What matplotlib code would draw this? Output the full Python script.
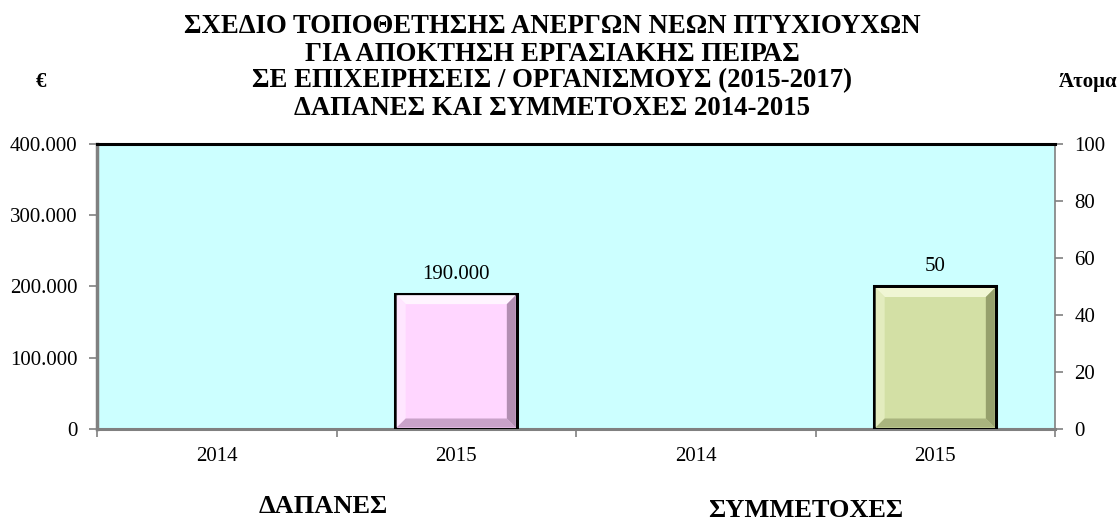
import matplotlib
matplotlib.use("Agg")
import matplotlib.pyplot as plt
from matplotlib.patches import Polygon
from matplotlib.ticker import FuncFormatter, FixedLocator

plt.rcParams['font.family'] = ['Liberation Serif', 'DejaVu Serif']

# ---- data ----
categories = ['2014', '2015', '2014', '2015']
dapanes_years = ['2014', '2015']
dapanes_values = [0, 190000]          # € (left axis)
symmetoxes_years = ['2014', '2015']
symmetoxes_values = [0, 50]           # persons (right axis)
title_lines = [
    'ΣΧΕΔΙΟ ΤΟΠΟΘΕΤΗΣΗΣ ΑΝΕΡΓΩΝ ΝΕΩΝ ΠΤΥΧΙΟΥΧΩΝ',
    'ΓΙΑ ΑΠΟΚΤΗΣΗ ΕΡΓΑΣΙΑΚΗΣ ΠΕΙΡΑΣ',
    'ΣΕ ΕΠΙΧΕΙΡΗΣΕΙΣ / ΟΡΓΑΝΙΣΜΟΥΣ (2015-2017)',
    'ΔΑΠΑΝΕΣ ΚΑΙ ΣΥΜΜΕΤΟΧΕΣ 2014-2015',
]
left_ticks = [0, 100000, 200000, 300000, 400000]
right_ticks = [0, 20, 40, 60, 80, 100]

W, H = 1118, 520
fig = plt.figure(figsize=(W / 100, H / 100), dpi=100)
ax = fig.add_axes([97 / W, (H - 429) / H, (1055 - 97) / W, (429 - 144) / H])
ax.set_facecolor('#CCFFFF')
ax2 = ax.twinx()
ax2.patch.set_visible(False)

n = len(categories)
ax.set_xlim(-0.5, n - 0.5)
ax.set_ylim(left_ticks[0], left_ticks[-1])
ax2.set_ylim(right_ticks[0], right_ticks[-1])

bar_w = 0.51
pos_d = [i for i in range(len(dapanes_values))]
pos_s = [len(dapanes_values) + i for i in range(len(symmetoxes_values))]

pink = dict(base='#FFD6FF', top='#FFF4FF', left='#FFE6FF', bottom='#C9A2C9', right='#B28EB2')
green = dict(base='#D3E0A5', top='#F0F6D4', left='#E3ECBE', bottom='#A9B47E', right='#96A06C')

bars_d = []
for p, v in zip(pos_d, dapanes_values):
    if v > 0:
        b = ax.bar(p, v, width=bar_w, color=pink['base'], edgecolor='black', linewidth=2.2, zorder=3)
        bars_d.append(b[0])
bars_s = []
for p, v in zip(pos_s, symmetoxes_values):
    if v > 0:
        b = ax2.bar(p, v, width=bar_w, color=green['base'], edgecolor='black', linewidth=2.2, zorder=3)
        bars_s.append(b[0])


def bevel(axis, rect, cols, d=9):
    # rect corners in display pixels, bevel drawn in axes fraction coords
    x0, y0 = axis.transData.transform((rect.get_x(), rect.get_y()))
    x1, y1 = axis.transData.transform((rect.get_x() + rect.get_width(), rect.get_y() + rect.get_height()))
    x0 += 1.5; y0 += 1.5; x1 -= 1.5; y1 -= 1.5
    inv = axis.transAxes.inverted()
    polys = [
        ([(x0, y1), (x1, y1), (x1 - d, y1 - d), (x0 + d, y1 - d)], cols['top']),
        ([(x0, y0), (x0, y1), (x0 + d, y1 - d), (x0 + d, y0 + d)], cols['left']),
        ([(x0, y0), (x1, y0), (x1 - d, y0 + d), (x0 + d, y0 + d)], cols['bottom']),
        ([(x1, y0), (x1, y1), (x1 - d, y1 - d), (x1 - d, y0 + d)], cols['right']),
    ]
    for pts, c in polys:
        axis.add_patch(Polygon(inv.transform(pts), closed=True, facecolor=c, edgecolor='none',
                               transform=axis.transAxes, zorder=3.5))


fig.canvas.draw()
for r in bars_d:
    bevel(ax, r, pink)
for r in bars_s:
    bevel(ax2, r, green)

# value labels
for p, v in zip(pos_d, dapanes_values):
    if v > 0:
        ax.annotate(f"{v:,}".replace(',', '.'), (p, v), xytext=(0, 15), textcoords='offset pixels',
                    ha='center', va='baseline', fontsize=15)
for p, v in zip(pos_s, symmetoxes_values):
    if v > 0:
        ax2.annotate(f"{v}", (p, v), xytext=(0, 15), textcoords='offset pixels',
                     ha='center', va='baseline', fontsize=15)

# axes formatting
gray = '#808080'
ax.set_yticks(left_ticks)
ax.yaxis.set_major_formatter(FuncFormatter(lambda v, p: f"{int(v):,}".replace(',', '.')))
ax2.set_yticks(right_ticks)
ax.tick_params(axis='y', which='major', length=6, width=1.2, color=gray, labelsize=15, pad=8)
ax2.tick_params(axis='y', which='major', length=6, width=1.2, color=gray, labelsize=15, pad=8)

ax.xaxis.set_major_locator(FixedLocator([i - 0.5 for i in range(n + 1)]))
ax.xaxis.set_minor_locator(FixedLocator(list(range(n))))
ax.set_xticklabels([''] * (n + 1))
ax.set_xticklabels(categories, minor=True)
ax.tick_params(axis='x', which='major', length=6, width=1.2, color=gray)
ax.tick_params(axis='x', which='minor', length=0, labelsize=15, pad=13)

for s in ['top', 'right']:
    ax.spines[s].set_visible(False)
ax.spines['left'].set_color(gray); ax.spines['left'].set_linewidth(2.5)
ax.spines['bottom'].set_color(gray); ax.spines['bottom'].set_linewidth(2.2)
ax2.spines['left'].set_visible(False)
ax2.spines['bottom'].set_visible(False)
ax2.spines['top'].set_color('black'); ax2.spines['top'].set_linewidth(2.2)
ax2.spines['right'].set_color(gray); ax2.spines['right'].set_linewidth(1.2)

# title lines (baselines in pixels from top)
line_base = [33, 61, 87.5, 115]
for t, y in zip(title_lines, line_base):
    fig.text(552 / W, 1 - y / H, t, ha='center', va='baseline', fontsize=19.3, fontweight='bold')

fig.text(41 / W, 1 - 87 / H, '€', ha='center', va='baseline', fontsize=15, fontweight='bold')
fig.text(1117 / W, 1 - 87 / H, 'Άτομα', ha='right', va='baseline', fontsize=15, fontweight='bold')

fig.text(323 / W, 1 - 513 / H, 'ΔΑΠΑΝΕΣ', ha='center', va='baseline', fontsize=19, fontweight='bold')
fig.text(806 / W, 1 - 517 / H, 'ΣΥΜΜΕΤΟΧΕΣ', ha='center', va='baseline', fontsize=19, fontweight='bold')

fig.savefig('out.png', dpi=100)
